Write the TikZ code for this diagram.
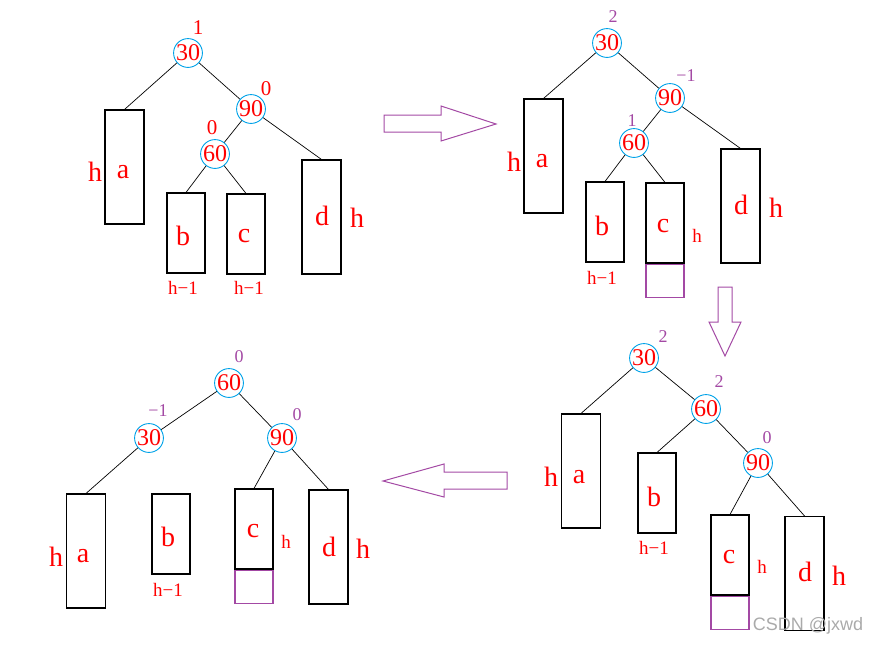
\documentclass[tikz,border=0pt]{standalone}
\usepackage{fontspec}
\setmainfont{Liberation Serif}
\newfontfamily\wmfont{Liberation Sans}
\definecolor{keyred}{RGB}{255,0,0}
\definecolor{ringblue}{RGB}{0,162,232}
\definecolor{balpurple}{RGB}{163,73,164}
\definecolor{wmgray}{RGB}{170,170,170}
\tikzset{
  key/.style={circle, draw=ringblue, line width=0.9pt, minimum size=28pt, inner sep=0pt,
              text=keyred, font=\fontsize{24}{24}\selectfont},
  tallbox/.style={draw, line width=1.1pt, minimum width=39pt, minimum height=114pt, inner sep=0pt},
  shortbox/.style={draw, line width=1.1pt, minimum width=38pt, minimum height=80pt, inner sep=0pt},
  growbox/.style={draw=balpurple, line width=1.2pt, minimum width=38pt, minimum height=33pt, inner sep=0pt, anchor=north},
  edge/.style={line width=0.7pt},
  letter/.style={text=keyred, inner sep=0pt, font=\fontsize{28}{28}\selectfont},
  height/.style={text=keyred, inner sep=0pt, font=\fontsize{28}{28}\selectfont},
  smallh/.style={text=keyred, inner sep=0pt, font=\fontsize{19}{19}\selectfont},
  hminus/.style={text=keyred, inner sep=0pt, font=\fontsize{19}{19}\selectfont},
  balred/.style={text=keyred, inner sep=0pt, font=\fontsize{21}{21}\selectfont},
  balpur/.style={text=balpurple, inner sep=0pt, font=\fontsize{18}{18}\selectfont},
  fatarrow/.style={draw=balpurple, line width=1pt, line join=miter}
}
\begin{document}
\begin{tikzpicture}[x=1pt, y=-1pt]
\useasboundingbox (0,0) rectangle (877,646);

% ---------- tree 1: inserted into c, before checking ----------
\node[key] (p1n30) at (188,53) {30};
\node[key] (p1n90) at (251,109) {90};
\node[key] (p1n60) at (215,154) {60};
\node[balred] (p1b30) at (198,28) {1};
\node[balred] (p1b90) at (266,89) {0};
\node[balred] (p1b60) at (212,128) {0};
\node[tallbox] (p1a) at (124.5,167) {};
\node[shortbox] (p1b) at (186,233) {};
\node[shortbox] (p1c) at (246,234) {};
\node[tallbox] (p1d) at (321.5,217) {};
\node[letter] at (123,172) {a};
\node[height] at (95,172) {h};
\node[letter] at (183,236) {b};
\node[letter] at (244,236) {c};
\node[letter] at (322,216) {d};
\node[height] at (357,218) {h};
\node[hminus] at (183,288) {h−1};
\node[hminus] at (249,288) {h−1};
\draw[edge] (p1n30) -- (p1a.north);
\draw[edge] (p1n30) -- (p1n90);
\draw[edge] (p1n90) -- (p1n60);
\draw[edge] (p1n90) -- (p1d.north);
\draw[edge] (p1n60) -- (p1b.north);
\draw[edge] (p1n60) -- (p1c.north);

% ---------- tree 2: c grows to h ----------
\node[key] (p2n30) at (607,43) {30};
\node[key] (p2n90) at (670,98) {90};
\node[key] (p2n60) at (634,143) {60};
\node[balpur] (p2b30) at (613,17) {2};
\node[balpur] (p2b90) at (686,76) {−1};
\node[balpur] (p2b60) at (632,121) {1};
\node[tallbox] (p2a) at (543.5,156) {};
\node[shortbox] (p2b) at (605,222) {};
\node[shortbox] (p2c) at (665,223) {};
\node[growbox] (p2g) at (p2c.south) {};
\node[tallbox] (p2d) at (740.5,206) {};
\node[letter] at (542,161) {a};
\node[height] at (514,162) {h};
\node[letter] at (602,226) {b};
\node[hminus] at (602,278) {h−1};
\node[letter] at (663,226) {c};
\node[smallh] at (697,236) {h};
\node[letter] at (741,205) {d};
\node[height] at (776,208) {h};
\draw[edge] (p2n30) -- (p2a.north);
\draw[edge] (p2n30) -- (p2n90);
\draw[edge] (p2n90) -- (p2n60);
\draw[edge] (p2n90) -- (p2d.north);
\draw[edge] (p2n60) -- (p2b.north);
\draw[edge] (p2n60) -- (p2c.north);

% ---------- tree 3: after right rotation at 90 ----------
\node[key] (p3n30) at (644,358) {30};
\node[key] (p3n60) at (706,409) {60};
\node[key] (p3n90) at (758,463) {90};
\node[balpur] (p3b30) at (663,337) {2};
\node[balpur] (p3b60) at (719,382) {2};
\node[balpur] (p3b90) at (767,438) {0};
\node[tallbox] (p3a) at (581,471) {};
\node[shortbox] (p3b) at (657,493) {};
\node[shortbox] (p3c) at (730,555) {};
\node[growbox] (p3g) at (p3c.south) {};
\node[tallbox] (p3d) at (804.5,573.5) {};
\node[letter] at (579,477) {a};
\node[height] at (551,477) {h};
\node[letter] at (654,497) {b};
\node[hminus] at (654,548) {h−1};
\node[letter] at (729,557) {c};
\node[smallh] at (762,567) {h};
\node[letter] at (805,572) {d};
\node[height] at (839,576) {h};
\draw[edge] (p3n30) -- (p3a.north);
\draw[edge] (p3n30) -- (p3n60);
\draw[edge] (p3n60) -- (p3b.north);
\draw[edge] (p3n60) -- (p3n90);
\draw[edge] (p3n90) -- (p3c.north);
\draw[edge] (p3n90) -- (p3d.north);

% ---------- tree 4: after left rotation at 30 ----------
\node[key] (p4n60) at (229,383) {60};
\node[key] (p4n30) at (149,438) {30};
\node[key] (p4n90) at (282,438) {90};
\node[balpur] (p4b60) at (239,357) {0};
\node[balpur] (p4b30) at (158,411) {−1};
\node[balpur] (p4b90) at (297,415) {0};
\node[tallbox] (p4a) at (86,551) {};
\node[shortbox] (p4b) at (171,534) {};
\node[shortbox] (p4c) at (254,529) {};
\node[growbox] (p4g) at (p4c.south) {};
\node[tallbox] (p4d) at (328.5,547) {};
\node[letter] at (83,556) {a};
\node[height] at (56,557) {h};
\node[letter] at (168,537) {b};
\node[hminus] at (168,590) {h−1};
\node[letter] at (253,531) {c};
\node[smallh] at (286,542) {h};
\node[letter] at (329,547) {d};
\node[height] at (363,549) {h};
\draw[edge] (p4n60) -- (p4n30);
\draw[edge] (p4n60) -- (p4n90);
\draw[edge] (p4n30) -- (p4a.north);
\draw[edge] (p4n90) -- (p4c.north);
\draw[edge] (p4n90) -- (p4d.north);

% ---------- step arrows ----------
\draw[fatarrow] (384,115) -- (441,115) -- (441,106) -- (496,124) -- (441,141) -- (441,132) -- (384,132) -- cycle;
\draw[fatarrow] (718,287) -- (732,287) -- (732,322) -- (741,322) -- (725,356) -- (709,322) -- (718,322) -- cycle;
\draw[fatarrow] (507,472) -- (444,472) -- (444,464) -- (383,481) -- (444,497) -- (444,489) -- (507,489) -- cycle;

% ---------- watermark ----------
\node[text=wmgray, inner sep=0pt, font=\wmfont\fontsize{18}{18}\selectfont] (wm) at (808,626) {CSDN @jxwd};
\end{tikzpicture}
\end{document}
